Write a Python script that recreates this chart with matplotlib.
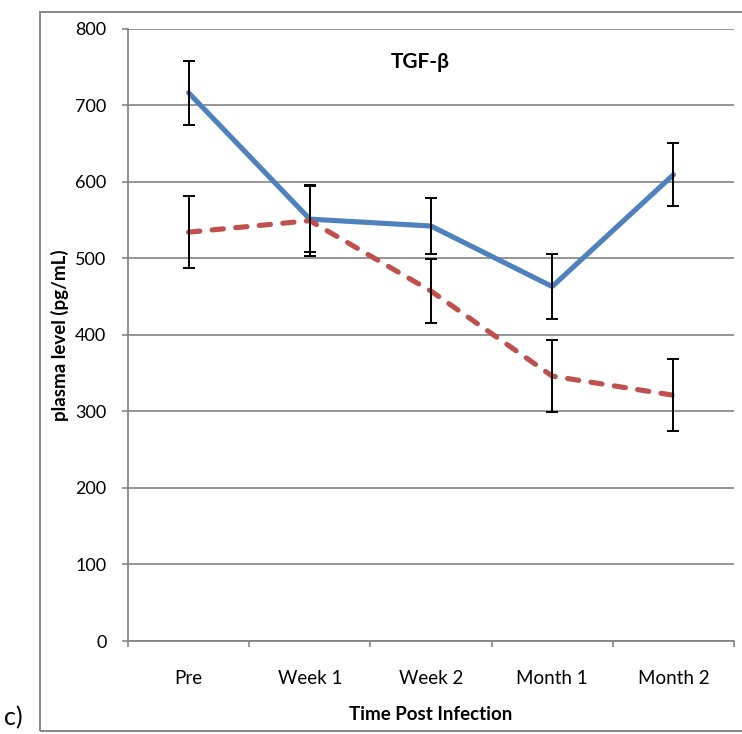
import matplotlib
matplotlib.use("Agg")
import matplotlib.pyplot as plt
from matplotlib.patches import Rectangle

categories = ["Pre", "Week 1", "Week 2", "Month 1", "Month 2"]
blue_vals = [716, 551, 542, 463, 609]
blue_err = [42, 43, 37, 42, 41]
red_vals = [534, 549, 457, 346, 321]
red_err = [47, 46, 42, 47, 47]
yticks = [0, 100, 200, 300, 400, 500, 600, 700, 800]

plt.rcParams['font.family'] = ['Lato', 'DejaVu Sans']

fig = plt.figure(figsize=(7.42, 7.34), dpi=100)
W, H = 742, 734
ax = fig.add_axes([128 / W, 1 - 641 / H, (734 - 128) / W, (641 - 28.5) / H])

x = list(range(len(categories)))
ax.plot(x, blue_vals, color="#4F81BD", lw=3.7, solid_capstyle="round", zorder=3)
ax.plot(x, red_vals, color="#C0504D", lw=3.7, dashes=(2.2, 2.4), dash_capstyle="round", zorder=3)
ax.errorbar(x, blue_vals, yerr=blue_err, fmt="none", ecolor="black", elinewidth=1.4,
            capsize=4.4, capthick=1.4, zorder=4)
ax.errorbar(x, red_vals, yerr=red_err, fmt="none", ecolor="black", elinewidth=1.4,
            capsize=4.4, capthick=1.4, zorder=4)

ax.set_xlim(-0.5, len(categories) - 0.5)
ax.set_ylim(0, 800)
ax.set_yticks(yticks)
ax.set_yticklabels([str(v) for v in yticks], fontsize=13)
ax.set_xticks(x)
ax.set_xticklabels(categories, fontsize=13.5)
ax.set_xticks([i - 0.5 for i in range(len(categories) + 1)], minor=True)
ax.tick_params(axis="x", which="major", length=0, pad=21)
ax.tick_params(axis="x", which="minor", length=4.5, color="#868686", width=1.2)
ax.tick_params(axis="y", length=4.5, color="#868686", width=1.2, pad=11)

ax.grid(axis="y", color="#8C8C8C", lw=1.3)
ax.set_axisbelow(True)
for s in ["top", "right"]:
    ax.spines[s].set_visible(False)
for s in ["left", "bottom"]:
    ax.spines[s].set_color("#868686")
    ax.spines[s].set_linewidth(1.3)

ax.text((420 - 128) / (734 - 128), 0.945, "TGF-β", transform=ax.transAxes, ha="center",
        va="center", fontsize=15, fontweight="bold")
fig.text(60 / W, 1 - 335 / H, "plasma level (pg/mL)", rotation=90, ha="center", va="center",
         fontsize=13.5, fontweight="bold")
fig.text(431 / W, 1 - 715 / H, "Time Post Infection", ha="center", va="center",
         fontsize=13.5, fontweight="bold")
fig.text(4 / W, 1 - 718 / H, "c)", ha="left", va="center", fontsize=18)

fig.add_artist(Rectangle((40 / W, 1 - 731 / H), (W + 5 - 40) / W, (731 - 11.5) / H,
                         transform=fig.transFigure, fill=False, edgecolor="#868686",
                         lw=1.4, clip_on=False))

fig.savefig("out.png", dpi=100)
